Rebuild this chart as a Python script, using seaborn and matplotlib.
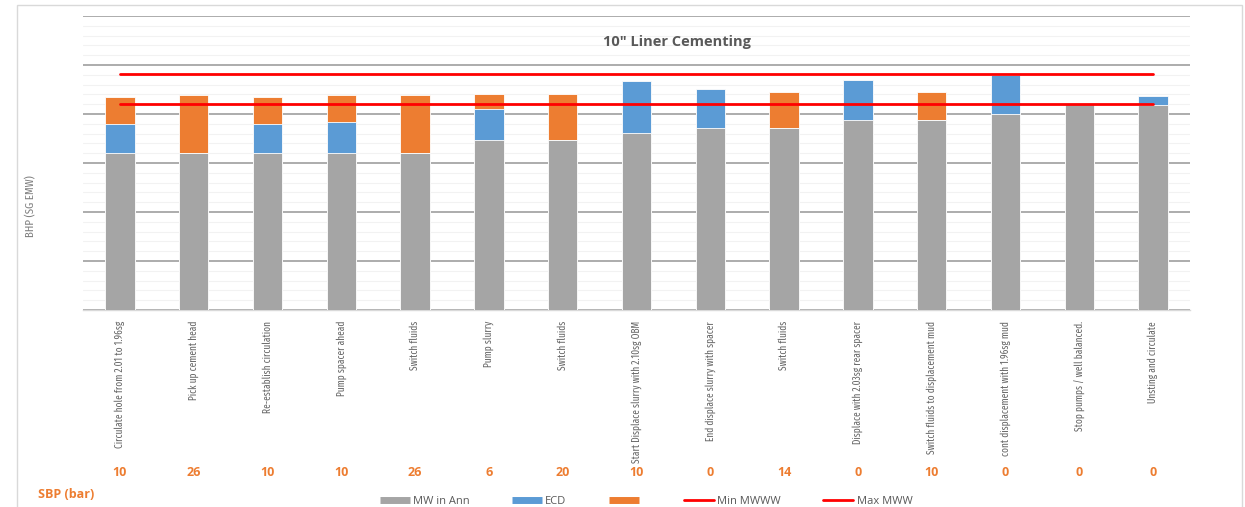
import numpy as np
import pandas as pd
import matplotlib
matplotlib.use("Agg")
import matplotlib.pyplot as plt
import matplotlib.transforms as mtransforms
from matplotlib import font_manager
from matplotlib.lines import Line2D
from matplotlib.patches import Rectangle
from matplotlib.ticker import MultipleLocator
import seaborn as sns

# ---------------- data ----------------
steps = [
    "Circulate hole from 2.01 to 1.96sg",
    "Pick up cement head",
    "Re-establish circulation",
    "Pump spacer ahead",
    "Switch fluids",
    "Pump slurry",
    "Switch fluids",
    "Start Displace slurry with 2.10sg OBM",
    "End displace slurry with spacer",
    "Switch fluids",
    "Displace with 2.03sg rear spacer",
    "Switch fluids to displacement mud",
    "cont displacement with 1.96sg mud",
    "Stop pumps / well balanced.",
    "Unsting and circulate",
]
mw_in_ann = [1.820, 1.820, 1.820, 1.820, 1.820, 1.846, 1.846, 1.862,
             1.871, 1.871, 1.888, 1.888, 1.899, 1.920, 1.919]
ecd_inc = [0.060, 0.000, 0.060, 0.064, 0.000, 0.064, 0.000, 0.106,
           0.080, 0.000, 0.082, 0.000, 0.081, 0.000, 0.018]
sbp_inc = [0.055, 0.119, 0.055, 0.055, 0.119, 0.031, 0.095, 0.000,
           0.000, 0.073, 0.000, 0.056, 0.000, 0.000, 0.000]
sbp_bar = [10, 26, 10, 10, 26, 6, 20, 10, 0, 14, 0, 10, 0, 0, 0]
min_mwww = [1.920] * 15
max_mww = [1.982] * 15

# ---------------- fonts ----------------
def has_font(name):
    return any(f.name == name for f in font_manager.fontManager.ttflist)

narrow = next((n for n in ["Fira Sans Extra Condensed", "Archivo Narrow", "Barlow Condensed"]
               if has_font(n)), "DejaVu Sans")
open_sans = "Open Sans" if has_font("Open Sans") else "DejaVu Sans"

sns.set_theme(style="white")
plt.rcParams["font.family"] = [open_sans, "DejaVu Sans"]

GRAY = "#A5A5A5"
BLUE = "#5B9BD5"
ORANGE = "#ED7D31"
RED = "#FF0000"
TXT = "#595959"

df = pd.DataFrame({
    "pos": np.arange(len(steps)),
    "mw": mw_in_ann,
    "ecd": ecd_inc,
    "sbp": sbp_inc,
})
df["lvl_ecd"] = df["mw"] + df["ecd"]
df["lvl_sbp"] = df["lvl_ecd"] + df["sbp"]

W, H = 1245, 507
fig = plt.figure(figsize=(W / 100, H / 100), dpi=100)
ax = fig.add_axes([83 / W, 1 - 310 / H, (1190 - 83) / W, (310 - 16) / H])

kw = dict(x="pos", width=0.40, errorbar=None, edgecolor="white", linewidth=0.6, ax=ax, zorder=3)
sns.barplot(data=df, y="lvl_sbp", color=ORANGE, saturation=1, **kw)
sns.barplot(data=df, y="lvl_ecd", color=BLUE, saturation=1, **kw)
sns.barplot(data=df, y="mw", color=GRAY, saturation=1, **kw)

sns.lineplot(x=df["pos"], y=max_mww, color=RED, lw=2.0, ax=ax, zorder=4)
sns.lineplot(x=df["pos"], y=min_mwww, color=RED, lw=2.0, ax=ax, zorder=4)

ax.set_xlim(-0.5, len(steps) - 0.5)
ax.set_ylim(1.5, 2.1)
ax.yaxis.set_major_locator(MultipleLocator(0.1))
ax.yaxis.set_minor_locator(MultipleLocator(0.02))
ax.grid(which="major", axis="y", color="#A6A6A6", lw=1.3, zorder=0)
ax.grid(which="minor", axis="y", color="#F2F2F2", lw=0.8, zorder=0)
ax.set_axisbelow(True)
ax.tick_params(axis="y", which="both", left=False, labelleft=False)
ax.tick_params(axis="x", bottom=False, pad=2)
for s in ["left", "right", "top"]:
    ax.spines[s].set_visible(False)
ax.spines["bottom"].set_color("#D9D9D9")
ax.spines["bottom"].set_linewidth(1.0)
ax.set_xlabel("")
ax.set_ylabel("")
ax.set_xticks(df["pos"])
ax.set_xticklabels(steps, rotation=90, va="top", ha="center",
                   fontsize=7.3, color="#666666", family=[narrow, "DejaVu Sans"], fontweight="normal")

# SBP value row
tr = mtransforms.blended_transform_factory(ax.transData, fig.transFigure)
for p, v in zip(df["pos"], sbp_bar):
    ax.text(p, 1 - 473 / H, str(v), transform=tr,
            ha="center", va="center", fontsize=9, fontweight="bold", color=ORANGE)
fig.text(38 / W, 1 - 494 / H, "SBP (bar)", ha="left", va="center",
         fontsize=9, fontweight="bold", color=ORANGE)

# title and y label
fig.text(677 / W, 1 - 42 / H, "10\" Liner Cementing", ha="center", va="center",
         fontsize=10.5, fontweight="bold", color=TXT)
fig.text(31 / W, 1 - 206 / H, "BHP (SG EMW)", ha="center", va="center",
         rotation=90, fontsize=8.4, color="#7F7F7F", family=[narrow, "DejaVu Sans"], fontweight="normal")

# legend
handles = [
    Line2D([], [], color=GRAY, lw=5, solid_capstyle="butt"),
    Line2D([], [], color=BLUE, lw=5, solid_capstyle="butt"),
    Line2D([], [], color=ORANGE, lw=5, solid_capstyle="butt"),
    Line2D([], [], color=RED, lw=2),
    Line2D([], [], color=RED, lw=2),
]
labels = ["MW in Ann", "ECD", "", "Min MWWW", "Max MWW"]
fig.legend(handles, labels, loc="center", bbox_to_anchor=(646 / W, 1 - 501 / H),
           ncol=5, frameon=False, fontsize=8, handlelength=2.7, handletextpad=0.3,
           columnspacing=3.8, labelcolor=TXT)

# outer border
fig.patches.append(Rectangle((17 / W, -0.01), (1242 - 17) / W, 1 - 5 / H + 0.01,
                             transform=fig.transFigure, fill=False,
                             edgecolor="#D9D9D9", lw=1.0))

fig.savefig("out.png", dpi=100, facecolor="white")
